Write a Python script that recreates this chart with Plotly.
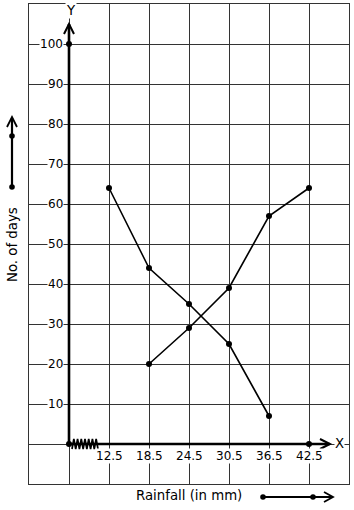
import plotly.graph_objects as go

# ---- data ----
rainfall_ticks = [12.5, 18.5, 24.5, 30.5, 36.5, 42.5]
series_down_x = [12.5, 18.5, 24.5, 30.5, 36.5]
series_down_y = [64, 44, 35, 25, 7]
series_up_x = [18.5, 24.5, 30.5, 36.5, 42.5]
series_up_y = [20, 29, 39, 57, 64]
y_tick_vals = [10, 20, 30, 40, 50, 60, 70, 80, 90, 100]
axis_dots_x = [6.5, 6.5, 42.5]
axis_dots_y = [0, 100, 0]

W, H = 354, 510
L, R, T, B = 29, 5, 4, 26
PW, PH = W - L - R, H - T - B
FONT = dict(family="DejaVu Sans", size=12, color="black")
TFONT = dict(family="DejaVu Sans", size=13.3, color="black")


def px(x):
    return (x - L) / PW


def py(y):
    return (H - B - y) / PH


def ppath(points):
    return "M " + " L ".join(f"{px(x):.5f},{py(y):.5f}" for x, y in points)


fig = go.Figure()

line_style = dict(color="black", width=1.6)
marker_style = dict(color="black", size=6)
fig.add_trace(go.Scatter(x=series_down_x, y=series_down_y, mode="lines+markers",
                         line=line_style, marker=marker_style, showlegend=False,
                         cliponaxis=False))
fig.add_trace(go.Scatter(x=series_up_x, y=series_up_y, mode="lines+markers",
                         line=line_style, marker=marker_style, showlegend=False,
                         cliponaxis=False))

shapes = []
# thick axes
shapes.append(dict(type="line", xref="x", yref="y", x0=6.5, y0=0, x1=6.5, y1=105,
                   line=dict(color="black", width=2.6), layer="above"))
shapes.append(dict(type="line", xref="x", yref="y", x0=6.5, y0=0, x1=45.6, y1=0,
                   line=dict(color="black", width=2.6), layer="above"))
# chevrons on axes
shapes.append(dict(type="path", xref="paper", yref="paper",
                   path=ppath([(64, 34), (69, 24), (74, 34)]),
                   line=dict(color="black", width=2), layer="above"))
shapes.append(dict(type="path", xref="paper", yref="paper",
                   path=ppath([(320, 439), (330, 444), (320, 449)]),
                   line=dict(color="black", width=2), layer="above"))
# kink zigzag on x axis
zig = []
n = 14
for i in range(n + 1):
    x = 72 + i * (26 / n)
    zig.append((x, 439 if i % 2 else 449))
shapes.append(dict(type="path", xref="paper", yref="paper", path=ppath(zig),
                   line=dict(color="black", width=1.7), layer="above"))
# y-title arrow (left)
shapes.append(dict(type="line", xref="paper", yref="paper",
                   x0=px(12), y0=py(187), x1=px(12), y1=py(118),
                   line=dict(color="black", width=2.2)))
shapes.append(dict(type="path", xref="paper", yref="paper",
                   path=ppath([(7, 127), (12, 117), (17, 127)]),
                   line=dict(color="black", width=1.8)))
# x-title arrow (bottom)
shapes.append(dict(type="line", xref="paper", yref="paper",
                   x0=px(263), y0=py(497), x1=px(332), y1=py(497),
                   line=dict(color="black", width=2.2)))
shapes.append(dict(type="path", xref="paper", yref="paper",
                   path=ppath([(324, 492), (333, 497), (324, 502)]),
                   line=dict(color="black", width=1.8)))
# dots on the decoration arrows
for (dx, dy) in [(12, 187), (12, 136), (263, 497), (313, 497)]:
    r = 2.8
    shapes.append(dict(type="circle", xref="paper", yref="paper",
                       x0=px(dx - r), x1=px(dx + r), y0=py(dy + r), y1=py(dy - r),
                       fillcolor="black", line=dict(color="black", width=0)))

fig.add_trace(go.Scatter(x=axis_dots_x, y=axis_dots_y, mode="markers",
                         marker=dict(color="black", size=6), showlegend=False,
                         cliponaxis=False))

annotations = []
for v in y_tick_vals:
    annotations.append(dict(x=6.5, y=v, xref="x", yref="y", text=str(v),
                            showarrow=False, xanchor="right", yanchor="middle",
                            xshift=-5, font=FONT, bgcolor="white", borderpad=0))
for v in rainfall_ticks:
    annotations.append(dict(x=v, y=-3, xref="x", yref="y", text=str(v),
                            showarrow=False, xanchor="center", yanchor="middle",
                            font=FONT, bgcolor="white", borderpad=0))
annotations.append(dict(x=px(71), y=py(11), xref="paper", yref="paper", text="Y",
                        xanchor="center", yanchor="middle",
                        showarrow=False, font=TFONT, bgcolor="white", borderpad=0))
annotations.append(dict(x=px(339), y=py(443), xref="paper", yref="paper", text="X",
                        xanchor="center", yanchor="middle",
                        showarrow=False, font=TFONT, bgcolor="white", borderpad=0))
annotations.append(dict(x=px(189), y=py(496), xref="paper", yref="paper",
                        xanchor="center", yanchor="middle",
                        text="Rainfall (in mm)", showarrow=False, font=TFONT))
annotations.append(dict(x=px(12), y=py(245), xref="paper", yref="paper",
                        xanchor="center", yanchor="middle",
                        text="No. of days", textangle=-90, showarrow=False, font=TFONT))

fig.update_layout(
    width=W, height=H,
    margin=dict(l=L, r=R, t=T, b=B, pad=0),
    paper_bgcolor="white", plot_bgcolor="white",
    shapes=shapes, annotations=annotations,
    xaxis=dict(range=[0.5, 48.5], tick0=0.5, dtick=6, showticklabels=False,
               showgrid=True, gridcolor="#333", gridwidth=1, zeroline=False,
               showline=True, mirror=True, linecolor="#333", linewidth=1,
               ticks="", fixedrange=True),
    yaxis=dict(range=[-10, 110], tick0=0, dtick=10, showticklabels=False,
               showgrid=True, gridcolor="#333", gridwidth=1, zeroline=False,
               showline=True, mirror=True, linecolor="#333", linewidth=1,
               ticks="", fixedrange=True),
    font=FONT,
)

fig.write_html("out.html", config={"displayModeBar": False})
